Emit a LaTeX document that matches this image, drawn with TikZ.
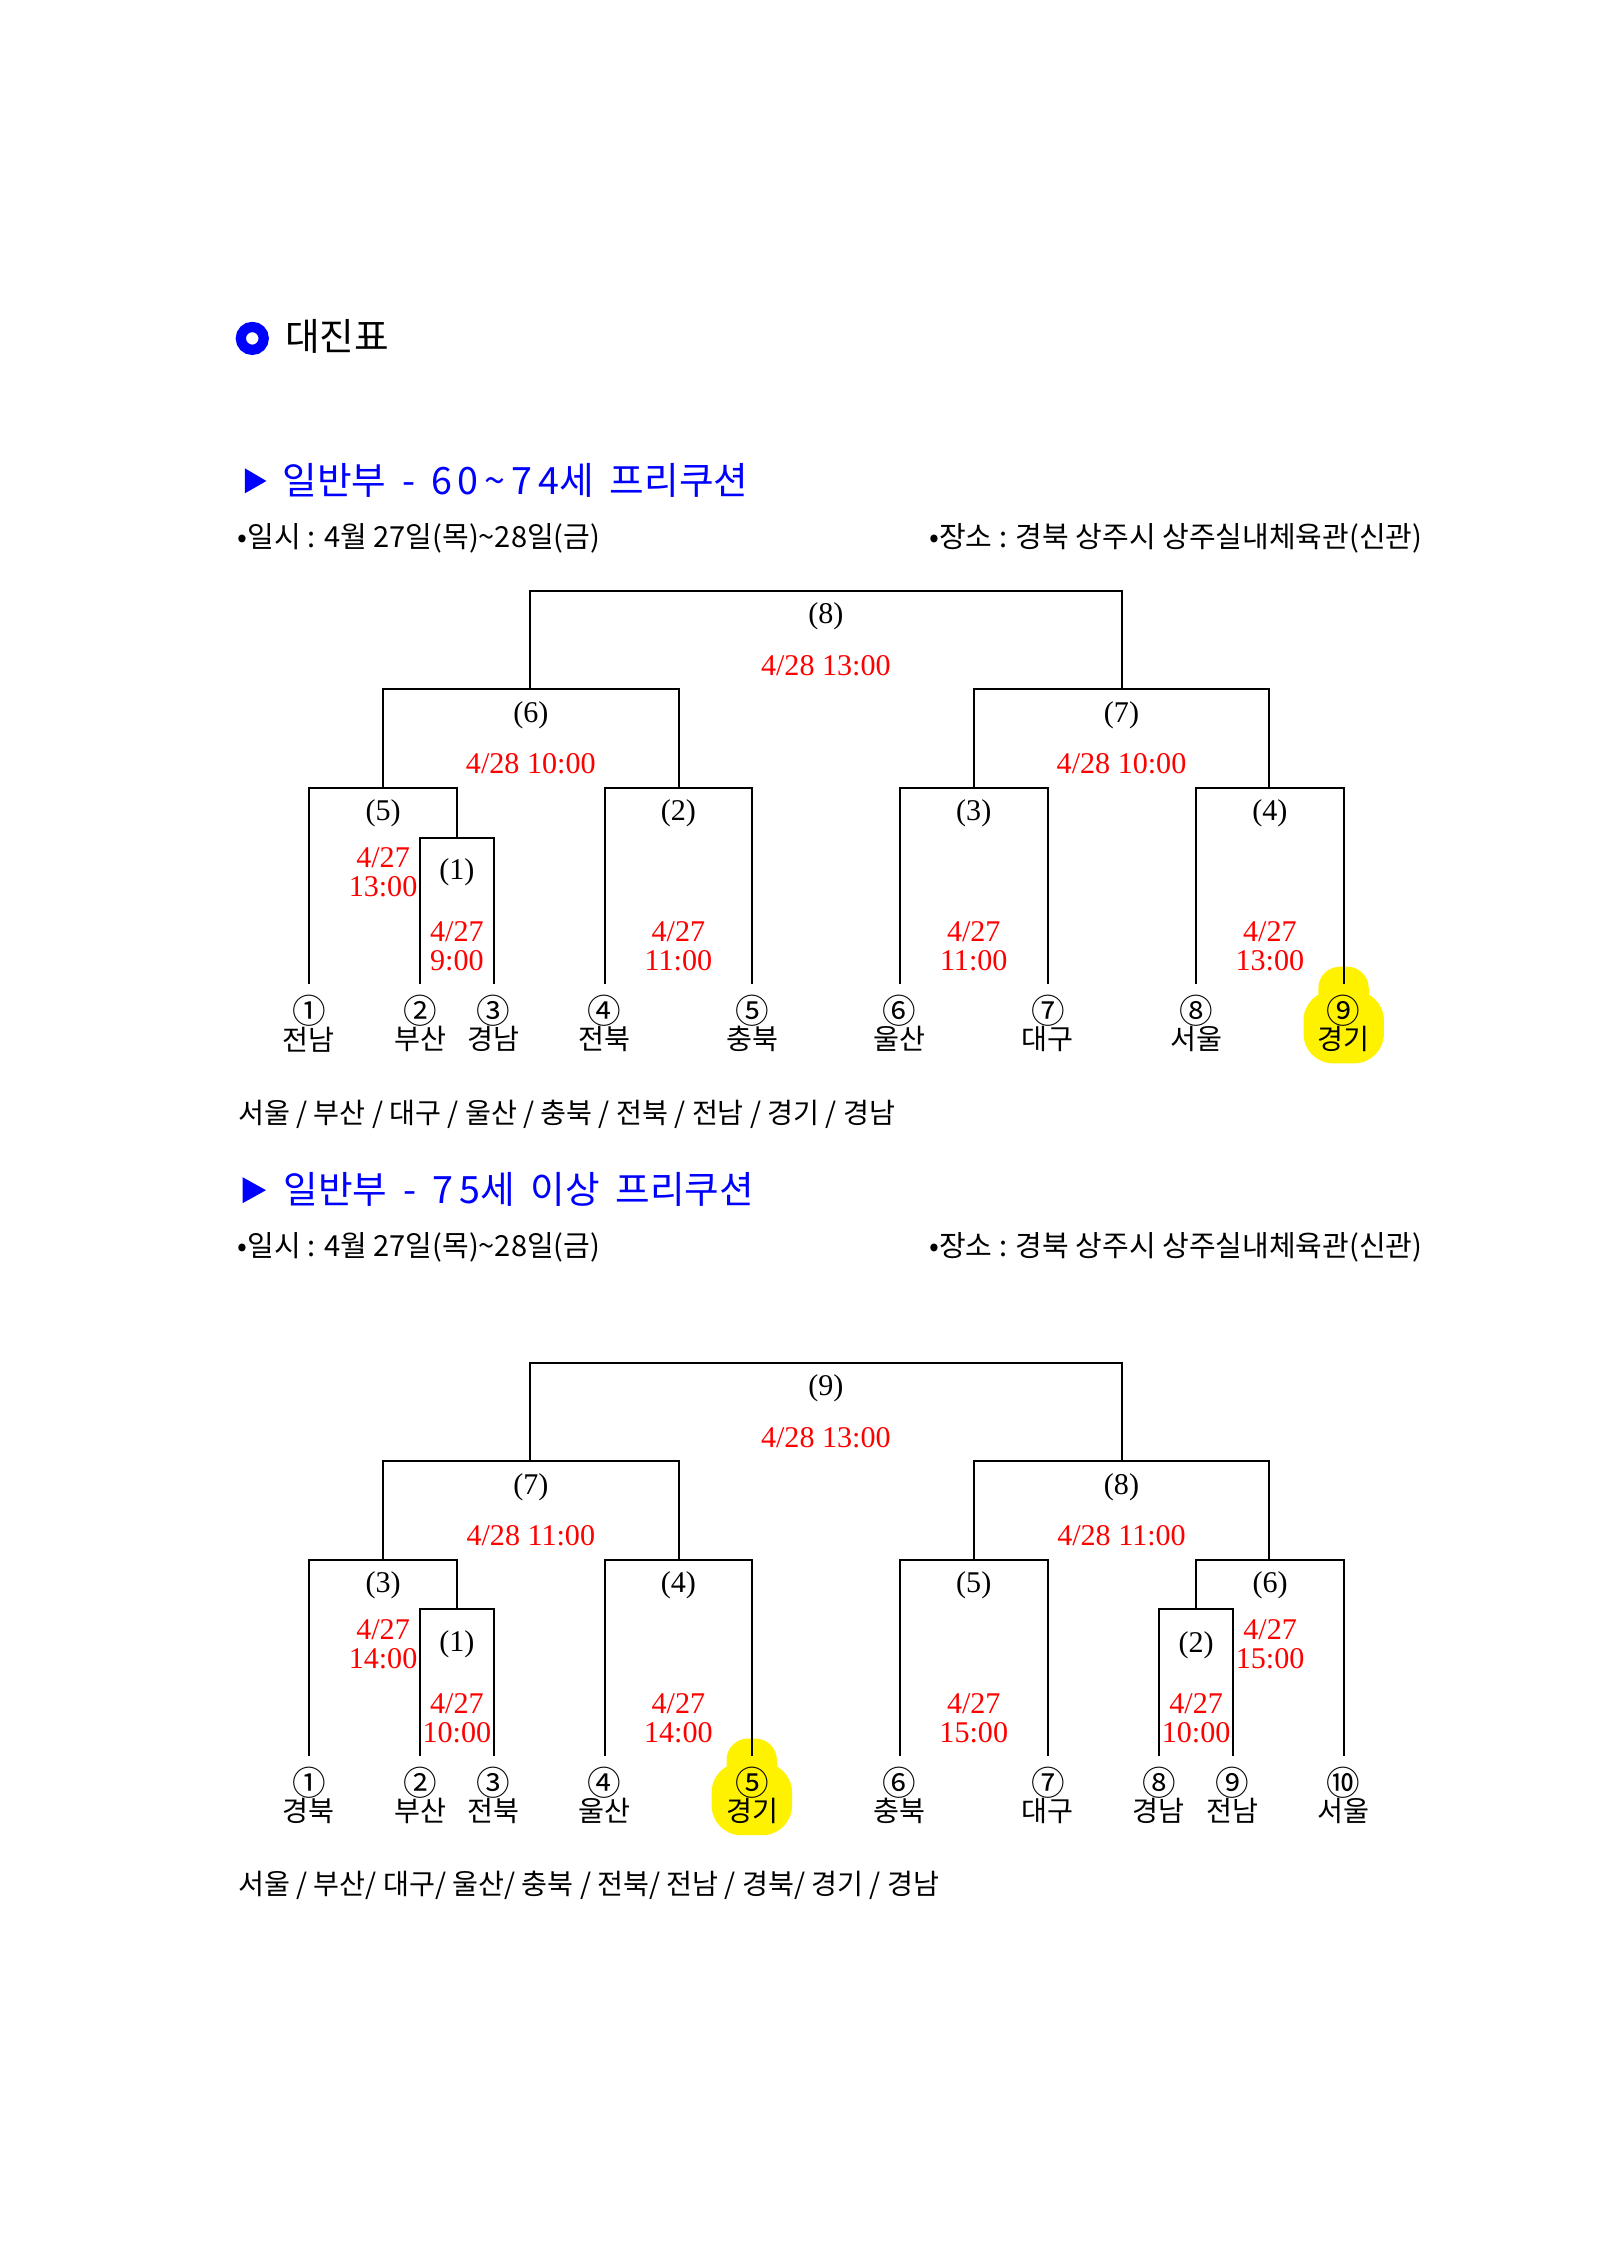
\documentclass[tikz,border=0pt]{standalone}
\usepackage{fontspec}
\setmainfont{Liberation Serif}
\newfontfamily\krfont{Noto Sans CJK KR}
\newfontfamily\krwide[LetterSpace=16]{Noto Sans CJK KR}
\newcommand\widesp{\spaceskip=0.42em\relax}

\tikzset{every picture/.style={line width=0.75pt}}
\tikzset{
	mno/.style={inner sep=0pt, font=\fontsize{11.2}{11.2}\selectfont},
	when/.style={inner sep=0pt, text=red, align=center, font=\fontsize{11.2}{10.8}\selectfont},
	seed/.style={inner sep=0pt, font=\fontsize{10.5}{10.5}\krfont},
	ring/.style={inner sep=0pt, font=\fontsize{12.5}{12.5}\krfont},
	kor/.style={inner sep=0pt, anchor=west, font=\fontsize{10.5}{10.5}\krfont},
	info/.style={inner sep=0pt, anchor=base west, font=\fontsize{10.8}{10.8}\krfont},
	head/.style={inner sep=0pt, anchor=west, text=blue, font=\fontsize{14}{14}\krfont\widesp},
	hilite/.style={fill=yellow, rounded corners=8}
}

\begin{document}
\begin{tikzpicture}[x=0.53575pt,y=0.53575pt,yscale=-1,xscale=1]
	\useasboundingbox (0,0) rectangle (1111.1,1570.1);

	%Shape: Ring
	\draw [blue, line width=3.8pt] (175.2,235) circle (7.95) ;
	% Text Node
	\draw (197.4,233.8) node [anchor=west, inner sep=0pt, font=\fontsize{14}{14}\krfont] (title) {대진표};

	%Shape: Triangle
	\fill [blue] (170,325.2) -- (185,334) -- (170,342.6) -- cycle ;
	% Text Node
	\draw (195.5,333.3) node [head] (head1) {일반부 - {\krwide 60\textasciitilde74}세 프리쿠션};
	% Text Node
	\draw (164.4,380) node [info] (info1a) {•일시 : 4월 27일(목)\textasciitilde28일(금)};
	% Text Node
	\draw (644.6,380) node [info] (info1b) {•장소 : 경북 상주시 상주실내체육관(신관)};

	%Shape: Highlight
	\fill [hilite] (915.5,671.3) rectangle (950.5,706) ;
	\fill [hilite, rounded corners=11] (905.2,688) rectangle (961,738.4) ;

	%Straight Lines
	\draw (368,478.7) -- (368,410.2) -- (779,410.2) -- (779,478.7) ;
	\draw (266,547.4) -- (266,478.7) -- (471.2,478.7) -- (471.2,547.4) ;
	\draw (676.1,547.4) -- (676.1,478.7) -- (881.5,478.7) -- (881.5,547.4) ;
	\draw (214.5,683.5) -- (214.5,547.4) -- (317.2,547.4) -- (317.2,581.7) ;
	\draw (291.7,683.5) -- (291.7,581.7) -- (342.9,581.7) -- (342.9,683.5) ;
	\draw (419.8,683.5) -- (419.8,547.4) -- (522.4,547.4) -- (522.4,683.5) ;
	\draw (624.7,683.5) -- (624.7,547.4) -- (727.7,547.4) -- (727.7,683.5) ;
	\draw (830.6,683.5) -- (830.6,547.4) -- (933.1,547.4) -- (933.1,683.5) ;

	% Text Node
	\draw (573.5,428.2) node [mno] (a8) {(8)};
	\draw (573.5,462.5) node [when] (d8) {4/28 13:00};
	\draw (368.6,496.5) node [mno] (a6) {(6)};
	\draw (368.6,530.6) node [when] (d6) {4/28 10:00};
	\draw (778.8,496.5) node [mno] (a7) {(7)};
	\draw (778.8,530.6) node [when] (d7) {4/28 10:00};
	\draw (266,564.8) node [mno] (a5) {(5)};
	\draw (266,605.9) node [when] (d5) {4/27\\13:00};
	\draw (317.3,606) node [mno] (a1) {(1)};
	\draw (317.3,656.9) node [when] (d1) {4/27\\9:00};
	\draw (471.1,564.8) node [mno] (a2) {(2)};
	\draw (471.1,656.9) node [when] (d2) {4/27\\11:00};
	\draw (676.2,564.8) node [mno] (a3) {(3)};
	\draw (676.2,656.9) node [when] (d3) {4/27\\11:00};
	\draw (881.8,564.8) node [mno] (a4) {(4)};
	\draw (881.8,656.9) node [when] (d4) {4/27\\13:00};

	% Text Node
	\foreach \x/\c/\t [count=\i] in {214.5/①/전남, 291.7/②/부산, 342.9/③/경남, 419.8/④/전북, 522.4/⑤/충북, 624.7/⑥/울산, 727.7/⑦/대구, 830.6/⑧/서울, 933.1/⑨/경기}
	{
		\draw (\x,701.9) node [ring] (s\i) {\c};
		\draw (\x,721.7) node [seed] (t\i) {\t};
	}

	% Text Node
	\draw (164.7,774) node [kor] (list1) {서울 / 부산 / 대구 / 울산 / 충북 / 전북 / 전남 / 경기 / 경남};

	%Shape: Triangle
	\fill [blue] (168.5,817.5) -- (184.7,826.5) -- (168.5,835.5) -- cycle ;
	% Text Node
	\draw (196.3,825.8) node [head] (head2) {일반부 - {\krwide 75}세 이상 프리쿠션};
	% Text Node
	\draw (164.4,872.5) node [info] (info2a) {•일시 : 4월 27일(목)\textasciitilde28일(금)};
	% Text Node
	\draw (644.6,872.5) node [info] (info2b) {•장소 : 경북 상주시 상주실내체육관(신관)};

	%Shape: Highlight
	\fill [hilite] (504.5,1207.3) rectangle (539.5,1242) ;
	\fill [hilite, rounded corners=11] (494.2,1224) rectangle (550,1274.4) ;

	%Straight Lines
	\draw (368,1014.4) -- (368,946.3) -- (779,946.3) -- (779,1014.4) ;
	\draw (266,1083.3) -- (266,1014.4) -- (471.2,1014.4) -- (471.2,1083.3) ;
	\draw (676.1,1083.3) -- (676.1,1014.4) -- (881.5,1014.4) -- (881.5,1083.3) ;
	\draw (214.5,1219.4) -- (214.5,1083.3) -- (317.2,1083.3) -- (317.2,1117.6) ;
	\draw (291.7,1219.4) -- (291.7,1117.6) -- (342.9,1117.6) -- (342.9,1219.4) ;
	\draw (419.8,1219.4) -- (419.8,1083.3) -- (522.4,1083.3) -- (522.4,1219.4) ;
	\draw (624.7,1219.4) -- (624.7,1083.3) -- (727.7,1083.3) -- (727.7,1219.4) ;
	\draw (830.6,1117.6) -- (830.6,1083.3) -- (933.1,1083.3) -- (933.1,1219.4) ;
	\draw (804.7,1219.4) -- (804.7,1117.6) -- (856,1117.6) -- (856,1219.4) ;

	% Text Node
	\draw (573.5,964.2) node [mno] (b9) {(9)};
	\draw (573.5,998.5) node [when] (e9) {4/28 13:00};
	\draw (368.6,1032.5) node [mno] (b7) {(7)};
	\draw (368.6,1066.6) node [when] (e7) {4/28 11:00};
	\draw (778.8,1032.5) node [mno] (b8) {(8)};
	\draw (778.8,1066.6) node [when] (e8) {4/28 11:00};
	\draw (266,1100.8) node [mno] (b3) {(3)};
	\draw (266,1141.9) node [when] (e3) {4/27\\14:00};
	\draw (317.3,1142) node [mno] (b1) {(1)};
	\draw (317.3,1192.9) node [when] (e1) {4/27\\10:00};
	\draw (471.1,1100.8) node [mno] (b4) {(4)};
	\draw (471.1,1192.9) node [when] (e4) {4/27\\14:00};
	\draw (676.2,1100.8) node [mno] (b5) {(5)};
	\draw (676.2,1192.9) node [when] (e5) {4/27\\15:00};
	\draw (882,1100.8) node [mno] (b6) {(6)};
	\draw (882,1142) node [when] (e6) {4/27\\15:00};
	\draw (830.6,1142.4) node [mno] (b2) {(2)};
	\draw (830.6,1192.9) node [when] (e2) {4/27\\10:00};

	% Text Node
	\foreach \x/\c/\t [count=\i] in {214.5/①/경북, 291.7/②/부산, 342.9/③/전북, 419.8/④/울산, 522.4/⑤/경기, 624.7/⑥/충북, 727.7/⑦/대구, 804.7/⑧/경남, 856/⑨/전남, 933.1/⑩/서울}
	{
		\draw (\x,1237.9) node [ring] (u\i) {\c};
		\draw (\x,1257.7) node [seed] (v\i) {\t};
	}

	% Text Node
	\draw (164.7,1309) node [kor] (list2) {서울 / 부산/ 대구/ 울산/ 충북 / 전북/ 전남 / 경북/ 경기 / 경남};

\end{tikzpicture}
\end{document}
